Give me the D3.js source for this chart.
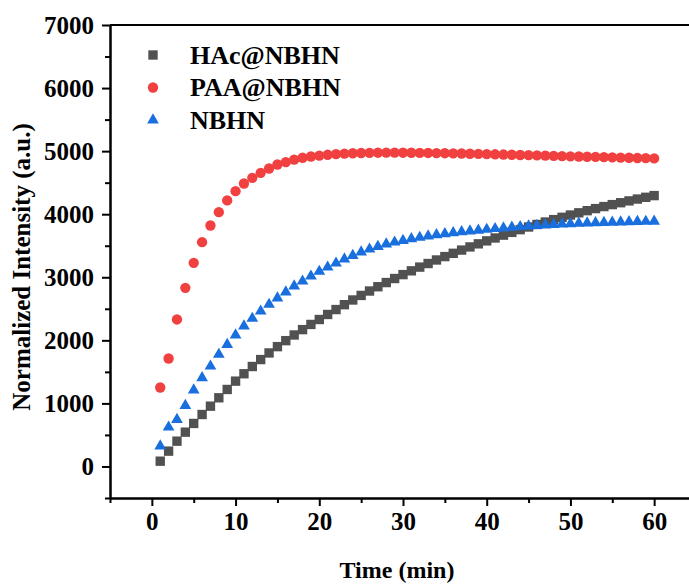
<!DOCTYPE html>
<html>
<head>
<meta charset="utf-8">
<script src="https://cdn.jsdelivr.net/npm/d3@7"></script>
<style>
  body { margin: 0; background: #fff; }
  text { font-family: "Liberation Serif", "Times New Roman", serif; font-weight: bold; fill: #000; }
</style>
</head>
<body>
<div id="chart"></div>
<script>
(function () {

    /* data */
    var time = d3.range(1, 61);
    var hac = [84, 243, 401, 544, 682, 824, 956, 1089, 1221, 1353,
        1470, 1585, 1695, 1800, 1900, 1995, 2085, 2170, 2252, 2330,
        2410, 2488, 2565, 2640, 2712, 2782, 2850, 2916, 2980, 3042,
        3102, 3161, 3218, 3274, 3328, 3380, 3431, 3481, 3530, 3577,
        3623, 3668, 3712, 3755, 3797, 3837, 3876, 3914, 3951, 3987,
        4022, 4056, 4089, 4121, 4152, 4182, 4211, 4240, 4268, 4295];
    var paa = [1252, 1712, 2331, 2833, 3229, 3556, 3821, 4032, 4218, 4365,
        4487, 4577, 4656, 4725, 4788, 4825, 4865, 4895, 4915, 4930,
        4942, 4952, 4960, 4966, 4970, 4973, 4975, 4976, 4976, 4975,
        4974, 4973, 4971, 4969, 4967, 4965, 4962, 4959, 4956, 4953,
        4950, 4946, 4943, 4939, 4936, 4932, 4929, 4925, 4922, 4918,
        4915, 4911, 4908, 4904, 4901, 4898, 4895, 4891, 4888, 4885];
    var nbhn = [322, 623, 745, 967, 1210, 1406, 1590, 1776, 1934, 2082,
        2225, 2347, 2462, 2569, 2670, 2765, 2859, 2938, 3017, 3092,
        3160, 3223, 3287, 3345, 3398, 3445, 3488, 3525, 3556, 3583,
        3610, 3631, 3652, 3674, 3690, 3705, 3721, 3731, 3745, 3758,
        3770, 3781, 3792, 3802, 3811, 3820, 3828, 3835, 3842, 3848,
        3854, 3859, 3864, 3868, 3872, 3876, 3879, 3882, 3885, 3888];
    var seriesNames = ["HAc@NBHN", "PAA@NBHN", "NBHN"];
    var seriesColors = ["#515151", "#F14040", "#1A6FDF"];
    var xTicks = [0, 10, 20, 30, 40, 50, 60];
    var yTicks = [0, 1000, 2000, 3000, 4000, 5000, 6000, 7000];

    var width = 689, height = 584;
    var left = 110, right = 696, top = 25, bottom = 498;

    var svg = d3.select("#chart").append("svg")
        .attr("width", width)
        .attr("height", height);

    var x = d3.scaleLinear().domain([-5, 65]).range([left, right]);
    var y = d3.scaleLinear().domain([-500, 7000]).range([bottom, top]);

    var symbols = [
        d3.symbol().type(d3.symbolSquare).size(88),
        d3.symbol().type(d3.symbolCircle).size(84),
        d3.symbol().type(d3.symbolTriangle).size(60)
    ];
    var allSeries = [hac, paa, nbhn];

    /* points */
    allSeries.forEach(function (vals, i) {
        svg.append("g").selectAll("path")
            .data(time)
            .enter().append("path")
            .attr("d", symbols[i])
            .attr("fill", seriesColors[i])
            .attr("transform", function (t, j) {
                return "translate(" + x(t) + "," + y(vals[j]) + ")";
            });
    });

    /* axes */
    svg.append("g")
        .attr("transform", "translate(0," + bottom + ")")
        .call(d3.axisBottom(x).tickValues(xTicks).tickSize(8).tickSizeOuter(0).tickPadding(6));
    svg.append("g")
        .attr("transform", "translate(0," + bottom + ")")
        .call(d3.axisBottom(x).tickValues([-5, 5, 15, 25, 35, 45, 55, 65]).tickSize(5).tickSizeOuter(0).tickFormat(""));

    svg.append("g")
        .attr("transform", "translate(" + left + ",0)")
        .call(d3.axisLeft(y).tickValues(yTicks).tickSize(8).tickSizeOuter(0).tickPadding(8).tickFormat(d3.format("d")));
    svg.append("g")
        .attr("transform", "translate(" + left + ",0)")
        .call(d3.axisLeft(y).tickValues([-500, 500, 1500, 2500, 3500, 4500, 5500, 6500]).tickSize(5).tickSizeOuter(0).tickFormat(""));

    svg.selectAll(".domain").attr("stroke", "#000").attr("stroke-width", 2);
    svg.selectAll(".tick line").attr("stroke", "#000").attr("stroke-width", 2);
    svg.selectAll(".tick text")
        .style("font-family", "Liberation Serif")
        .style("font-weight", "bold")
        .style("font-size", "25px")
        .attr("fill", "#000");

    // top frame line
    svg.append("line")
        .attr("x1", left).attr("x2", right)
        .attr("y1", top).attr("y2", top)
        .attr("stroke", "#000").attr("stroke-width", 2);

    /* axis titles */
    svg.append("text")
        .attr("x", 397)
        .attr("y", 578)
        .attr("text-anchor", "middle")
        .style("font-size", "24px")
        .text("Time (min)");

    svg.append("text")
        .attr("transform", "translate(30,267) rotate(-90)")
        .attr("text-anchor", "middle")
        .style("font-size", "25px")
        .text("Normalized Intensity (a.u.)");

    /* legend */
    var legend = svg.append("g");
    seriesNames.forEach(function (name, i) {
        var ly = 55 + i * 32.5;
        legend.append("path")
            .attr("d", symbols[i])
            .attr("fill", seriesColors[i])
            .attr("transform", "translate(153," + ly + ")");
        legend.append("text")
            .attr("x", 190)
            .attr("y", ly + 8.5)
            .style("font-size", "26px")
            .text(name);
    });
})();
</script>
</body>
</html>
